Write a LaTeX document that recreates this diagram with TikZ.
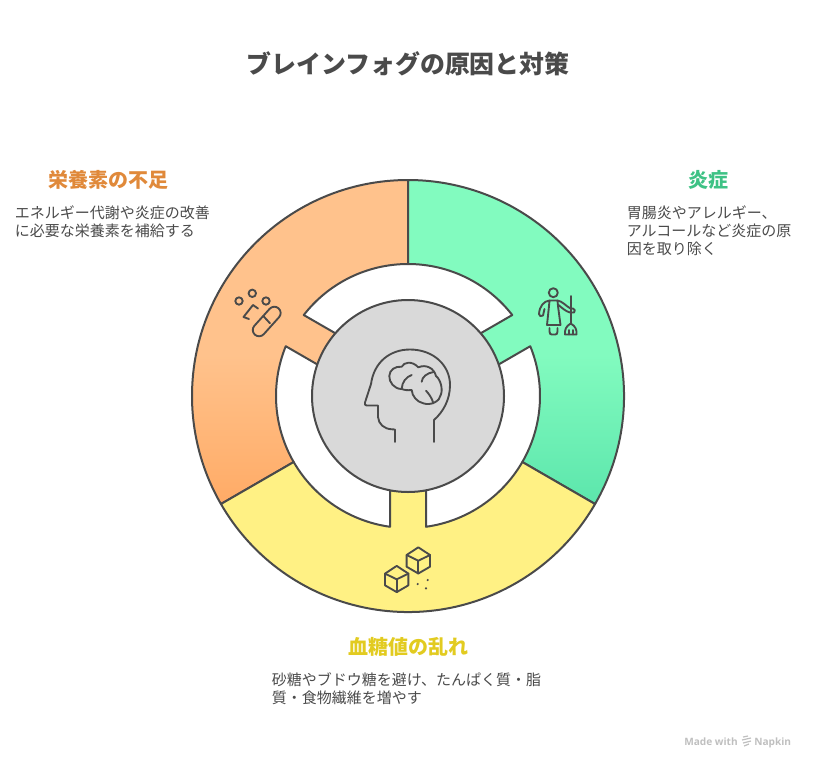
\documentclass[tikz,border=0pt]{standalone}
\usepackage{fontspec}
\setmainfont{Noto Sans CJK JP}
\newfontfamily\napkinfont{Open Sans}
\usepackage{tikz}
\definecolor{strokegray}{HTML}{4A4A4A}
\definecolor{hubgray}{HTML}{D9D9D9}
\definecolor{peach}{HTML}{FFC28C}
\definecolor{peachdeep}{HTML}{FFAB66}
\definecolor{mint}{HTML}{82FBBF}
\definecolor{mintdeep}{HTML}{5CE6AC}
\definecolor{butter}{HTML}{FFF184}
\definecolor{headorange}{HTML}{E0893A}
\definecolor{headgreen}{HTML}{3EC285}
\definecolor{headyellow}{HTML}{E2CB20}
\pgfdeclareverticalshading{peachfade}{100bp}{color(0bp)=(peachdeep); color(25bp)=(peachdeep); color(48bp)=(peach); color(100bp)=(peach)}
\pgfdeclareverticalshading{mintfade}{100bp}{color(0bp)=(mintdeep); color(25bp)=(mintdeep); color(48bp)=(mint); color(100bp)=(mint)}
\tikzset{
	sector/.style={draw=strokegray,line width=1.5pt,line join=round},
	iconline/.style={draw=strokegray,line width=1.4pt,line cap=round,line join=round},
	hub/.style={circle,draw=strokegray,fill=hubgray,line width=1.5pt,minimum size=144pt,inner sep=0pt},
	titletext/.style={font=\fontsize{18.7}{22}\selectfont\bfseries,text=strokegray,inner sep=0pt},
	headtext/.style={font=\fontsize{15}{18}\selectfont\bfseries,inner sep=0pt},
	bodytext/.style={font=\fontsize{11.25}{13.5}\selectfont,text=strokegray,align=left,inner sep=0pt},
	marktext/.style={font=\fontsize{7.6}{10}\selectfont\napkinfont\bfseries,text=black!25,inner sep=0pt,anchor=base west},
	logoline/.style={draw=black!25,line width=0.9pt}
}
\newcommand{\ringpath}[1]{
	(#1:216) arc[start angle=#1,end angle=#1+120,radius=216]
	-- ({#1+120}:132) arc[start angle=#1+120,end angle=#1+67.84,radius=132]
	-- ({#1+70.81}:96) -- ({#1+49.19}:96)
	-- ({#1+52.16}:132) arc[start angle=#1+52.16,end angle=#1,radius=132]
	-- cycle
}
\begin{document}
\begin{tikzpicture}[x=0.75pt,y=-0.75pt]
	\useasboundingbox (0,0) rectangle (816,768);

	\begin{scope}[shift={(408,396)},yscale=-1]
		\path[sector,shading=peachfade] \ringpath{90};
		\path[sector,shading=mintfade] \ringpath{330};
		\path[sector,fill=butter] \ringpath{210};
	\end{scope}
	\node[hub] (brain hub) at (408,396) {};

	\draw[iconline] (395,442) -- (395,429.5) -- (392,429.3) .. controls (384,429) and (378.5,424) .. (378,417) -- (378,405.5) -- (366.5,405.5) .. controls (365,405.5) and (364.5,404) .. (365,402.5) -- (371,384) .. controls (374,362) and (390,349.5) .. (410,349.5) .. controls (433,349.5) and (450,365) .. (450,385) .. controls (450,400) and (443,412) .. (434,420) -- (434,442);
	\draw[iconline] (401.7,389) .. controls (394,389) and (389,382) .. (389.3,376) .. controls (389.5,370) and (395,366) .. (401.7,366.7) .. controls (404,362) and (412,360.5) .. (418.3,367.3) .. controls (426,364) and (434,368) .. (436,376) .. controls (441,380) and (443,390) .. (440.7,395) .. controls (440,401) and (431,406) .. (423.3,403.3) .. controls (417,402) and (412,396) .. (411.7,390) .. controls (408,390.5) and (404,390) .. (401.7,389);
	\draw[iconline] (401.7,389) .. controls (402,382) and (406,377) .. (411.7,375);
	\draw[iconline] (421.7,381.7) .. controls (422,377) and (427,373) .. (433.5,372);
	\draw[iconline] (426,390.7) .. controls (429,394) and (432,398) .. (433.3,403.3);

	\foreach \px/\py in {239/301,252.3/293.3,266/301}
		\draw[iconline] (\px,\py) circle (3.7);
	\draw[iconline] (258,308.5) -- (253,305) -- (243.5,317) -- (249,319);
	\draw[iconline,rounded corners=4.7pt,rotate around={48:(266.7,321.5)}] (249,315.2) rectangle (284.4,327.8);
	\draw[iconline] (263.3,316) -- (270,323.3);

	\draw[iconline] (553.3,292.7) circle (4.5);
	\draw[iconline] (549.5,300.5) -- (557.5,300.5) -- (558,306) -- (560.5,325) -- (547,325) -- (549,306) -- cycle;
	\draw[iconline] (549.5,300.5) .. controls (544,301) and (539.5,306) .. (539,314) .. controls (539,317) and (541,316) .. (543,315.5) -- (544.5,309);
	\draw[iconline] (557.5,300.5) .. controls (562,301) and (566,306) .. (570.5,308.5) -- (573,308.5) .. controls (575,309) and (575.5,311.5) .. (574,312.5) -- (570,312.5) .. controls (566,311.5) and (562,308) .. (558.5,305);
	\draw[iconline] (570.7,296) -- (570.7,323.5);
	\draw[iconline] (570.7,323.5) .. controls (566,326) and (564.5,330) .. (565,334.5) -- (576.5,334.5) .. controls (577,330) and (575.5,326) .. (570.7,323.5);
	\draw[iconline] (568.7,330) -- (568.7,334.5);
	\draw[iconline] (572.7,330) -- (572.7,334.5);
	\draw[iconline] (549.5,328) -- (549.5,331.5) .. controls (549.5,334) and (550.5,334.5) .. (552,334.5) -- (555,334.5) .. controls (556.5,334.5) and (557.5,334) .. (557.5,331.5) -- (557.5,328);

	\foreach \cx/\cy in {418.3/560.7,396.7/579.3} {
		\draw[iconline] (\cx,\cy-13.4) -- (\cx+11.7,\cy-5.7) -- (\cx+11.7,\cy+6) -- (\cx,\cy+12.8) -- (\cx-11.7,\cy+6) -- (\cx-11.7,\cy-5.7) -- cycle;
		\draw[iconline] (\cx-11.7,\cy-5.7) -- (\cx,\cy) -- (\cx+11.7,\cy-5.7);
		\draw[iconline] (\cx,\cy) -- (\cx,\cy+12.8);
	}
	\foreach \px/\py in {417.7/584,427.7/580,426/588.3}
		\fill[strokegray] (\px,\py) circle (1.2);

	\node[titletext] (chart title) at (408,64) {ブレインフォグの原因と対策};

	\node[headtext,text=headorange] (nutrient head) at (108,180) {栄養素の不足};
	\node[bodytext,right] (nutrient body) at (14.5,222) {エネルギー代謝や炎症の改善\\に必要な栄養素を補給する};

	\node[headtext,text=headgreen] (inflammation head) at (708,180) {炎症};
	\node[bodytext,right] (inflammation body) at (626.5,231) {胃腸炎やアレルギー、\\アルコールなど炎症の原\\因を取り除く};

	\node[headtext,text=headyellow] (sugar head) at (408,647) {血糖値の乱れ};
	\node[bodytext,right] (sugar body) at (271.5,689) {砂糖やブドウ糖を避け、たんぱく質・脂\\質・食物繊維を増やす};

	\node[marktext] (made with) at (684,745) {Made with};
	\node[marktext] (napkin mark) at (754,745) {Napkin};
	\draw[logoline] (743,737) -- (748,736);
	\draw[logoline] (742,740) -- (751,738);
	\draw[logoline] (743,743) -- (751,741);
	\draw[logoline] (744,746) -- (749,744);
\end{tikzpicture}
\end{document}
